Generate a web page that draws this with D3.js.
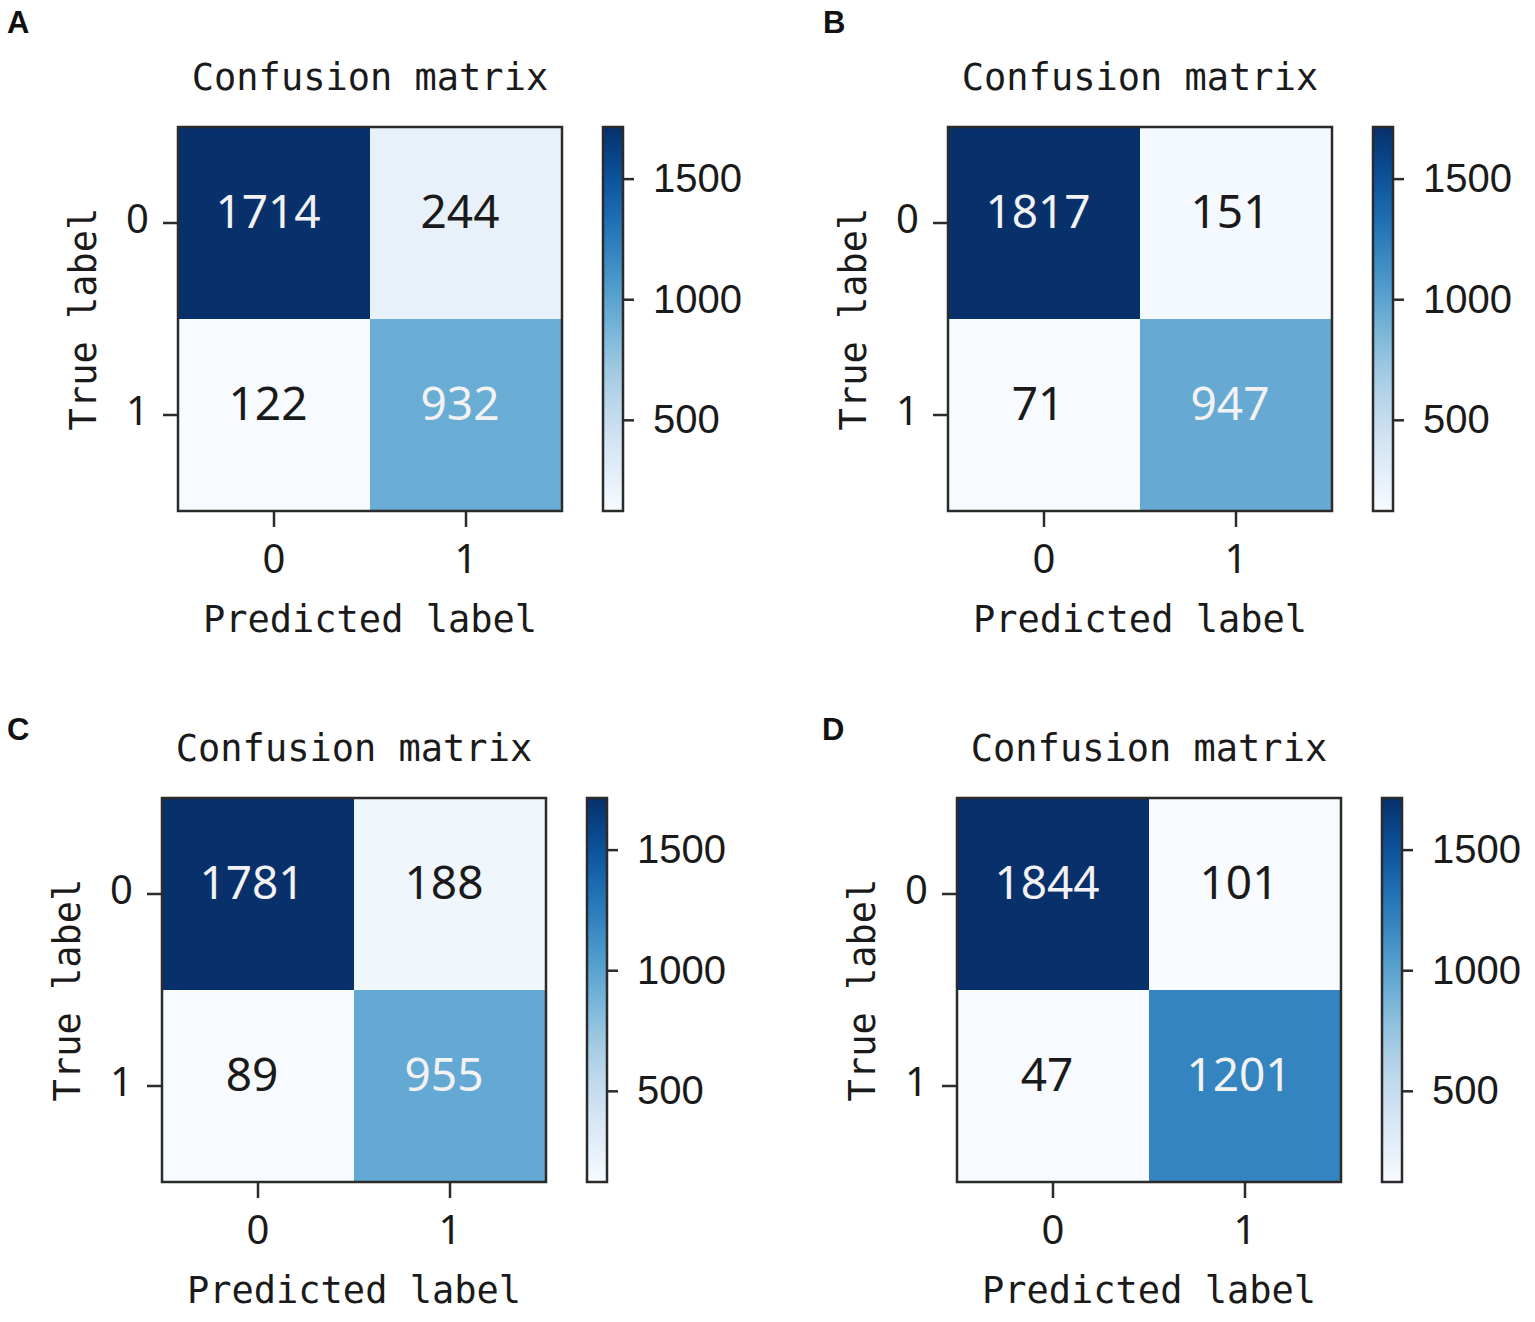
<!DOCTYPE html>
<html>
<head>
<meta charset="utf-8">
<script src="https://cdn.jsdelivr.net/npm/d3@7"></script>
<style>
  html, body { margin: 0; padding: 0; background: #fff; }
  svg { display: block; }
</style>
</head>
<body>
<svg id="chart" width="1535" height="1322"></svg>
<script>
// ---------- data ----------
const panelNames = ["A", "B", "C", "D"];
const titleText = "Confusion matrix";
const classLabels = ["0", "1"];
const xAxisTitle = "Predicted label";
const yAxisTitle = "True label";
// rows = true label, columns = predicted label
const matrixA = [[1714, 244], [122, 932]];
const matrixB = [[1817, 151], [71, 947]];
const matrixC = [[1781, 188], [89, 955]];
const matrixD = [[1844, 101], [47, 1201]];
const colorbarTicks = [500, 1000, 1500];
const colorbarRange = [122, 1714];

const matrices = [matrixA, matrixB, matrixC, matrixD];

// ---------- layout ----------
const size = 384;
const cbWidth = 20, cbGap = 41;
const origins = [[178, 127], [948, 127], [162, 798], [957, 798]];
const letterPos = [[7, 33], [823, 33], [7, 740], [822, 740]];
const monoFont = "'DejaVu Sans Mono', monospace";
const digitFont = "'Noto Sans', 'DejaVu Sans', sans-serif";

const svg = d3.select("#chart");
const color = d3.scaleSequential(d3.interpolateBlues).domain(colorbarRange).clamp(true);

// gradient for the colour bar
const defs = svg.append("defs");
const grad = defs.append("linearGradient").attr("id", "cbgrad")
  .attr("x1", 0).attr("y1", 1).attr("x2", 0).attr("y2", 0);
d3.range(0, 1.0001, 0.05).forEach(t => {
  grad.append("stop").attr("offset", t).attr("stop-color", d3.interpolateBlues(t));
});

panelNames.forEach((name, i) => {
  const m = matrices[i];
  const [ox, oy] = origins[i];
  const g = svg.append("g").attr("transform", `translate(${ox},${oy})`);

  const x = d3.scaleBand().domain(classLabels).range([0, size]);
  const y = d3.scaleBand().domain(classLabels).range([0, size]);

  const cells = [];
  m.forEach((row, r) => row.forEach((v, c) => cells.push({ r: classLabels[r], c: classLabels[c], v })));
  const vals = cells.map(d => d.v);
  const thresh = (d3.max(vals) + d3.min(vals)) / 2;

  g.selectAll("rect.cell").data(cells).join("rect")
    .attr("class", "cell")
    .attr("x", d => x(d.c)).attr("y", d => y(d.r))
    .attr("width", x.bandwidth()).attr("height", y.bandwidth())
    .attr("fill", d => color(d.v));

  g.selectAll("text.val").data(cells).join("text")
    .attr("class", "val")
    .attr("x", d => x(d.c) + x.bandwidth() / 2 - 6)
    .attr("y", d => y(d.r) + y.bandwidth() / 2 + 5)
    .attr("text-anchor", "middle")
    .attr("font-family", digitFont).attr("font-size", 46)
    .attr("fill", d => d.v > thresh ? "#f2f2f2" : "#1a1a1a")
    .text(d => d.v);

  // frame
  g.append("rect").attr("width", size).attr("height", size)
    .attr("fill", "none").attr("stroke", "#2b2b2b").attr("stroke-width", 2.5);

  // axes
  const xAxis = g.append("g").attr("transform", `translate(0,${size})`)
    .call(d3.axisBottom(x).tickSize(16).tickPadding(18));
  const yAxis = g.append("g")
    .call(d3.axisLeft(y).tickSize(15).tickPadding(14));
  [xAxis, yAxis].forEach(a => {
    a.select(".domain").remove();
    a.selectAll(".tick line").attr("stroke", "#2b2b2b").attr("stroke-width", 2.5);
    a.selectAll(".tick text").attr("font-family", digitFont).attr("font-size", 40).attr("fill", "#1a1a1a");
  });
  yAxis.selectAll(".tick text").attr("dy", "0.25em");

  // title
  g.append("text").attr("x", size / 2).attr("y", -37)
    .attr("text-anchor", "middle")
    .attr("font-family", monoFont).attr("font-size", 37).attr("fill", "#1a1a1a")
    .text(titleText);

  // axis titles
  g.append("text").attr("x", size / 2).attr("y", size + 121)
    .attr("text-anchor", "middle")
    .attr("font-family", monoFont).attr("font-size", 37).attr("fill", "#1a1a1a")
    .text(xAxisTitle);
  g.append("text")
    .attr("transform", `translate(-82,${size / 2}) rotate(-90)`)
    .attr("text-anchor", "middle")
    .attr("font-family", monoFont).attr("font-size", 37).attr("fill", "#1a1a1a")
    .text(yAxisTitle);

  // colour bar
  const cb = g.append("g").attr("transform", `translate(${size + cbGap},0)`);
  const cbScale = d3.scaleLinear().domain(colorbarRange).range([size, 0]);
  cb.append("rect").attr("width", cbWidth).attr("height", size)
    .attr("fill", "url(#cbgrad)").attr("stroke", "#2b2b2b").attr("stroke-width", 2.5);
  const cbAxis = cb.append("g").attr("transform", `translate(${cbWidth},0)`)
    .call(d3.axisRight(cbScale).tickValues(colorbarTicks).tickFormat(d3.format("d"))
      .tickSize(11).tickPadding(19));
  cbAxis.select(".domain").remove();
  cbAxis.selectAll(".tick line").attr("stroke", "#2b2b2b").attr("stroke-width", 2.5);
  cbAxis.selectAll(".tick text").attr("font-family", "'Liberation Sans', Arial, sans-serif")
    .attr("font-size", 40).attr("fill", "#1a1a1a");

  // panel letter
  svg.append("text").attr("x", letterPos[i][0]).attr("y", letterPos[i][1])
    .attr("font-family", "'Liberation Sans', Arial, sans-serif").attr("font-weight", "bold")
    .attr("font-size", 31).attr("fill", "#111").text(name);
});
</script>
</body>
</html>
